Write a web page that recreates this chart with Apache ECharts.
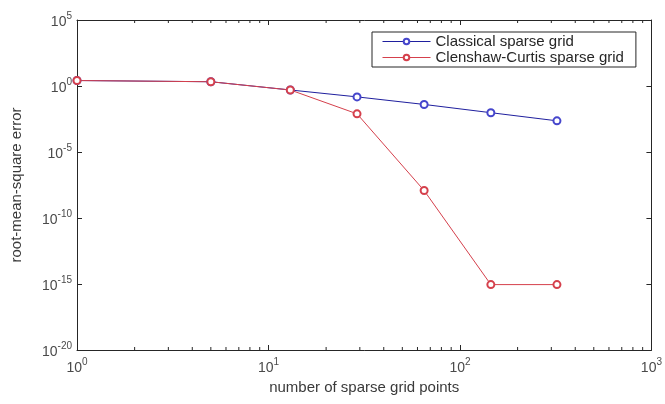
<!DOCTYPE html>
<html lang="en">
<head>
  <meta charset="UTF-8">
  <title>RMSE vs sparse grid points</title>
  <script src="https://cdn.jsdelivr.net/npm/echarts@6/dist/echarts.min.js"></script>
  <style>
    html, body { margin: 0; padding: 0; background: #fff; }
  </style>
</head>
<body>
  <div id="chart" style="width:665px; height:404px;"></div>
  <script>
    // number of sparse grid points (x)
    var gridPoints = [1, 5, 13, 29, 65, 145, 321];
    // root-mean-square error for each method
    var classicalErr = [2.6, 2.1, 0.5, 0.15, 0.04, 0.0095, 0.0023];
    var clenshawErr = [2.6, 2.1, 0.5, 0.0078, 1.2e-8, 9e-16, 9e-16];
    var seriesNames = ["Classical sparse grid", "Clenshaw-Curtis sparse grid"];
    // minor ticks on the log x axis
    var xMinorTicks = [2, 3, 4, 5, 6, 7, 8, 9, 20, 30, 40, 50, 60, 70, 80, 90, 200, 300, 400, 500, 600, 700, 800, 900];

    var axisColor = "#262626";
    var labelColor = "#4a4a4a";
    var font = "Liberation Sans";

    function pairs(xs, ys) {
      return xs.map(function (x, i) { return [x, ys[i]]; });
    }

    function powLabel(v) {
      var e = Math.round(Math.log10(v));
      return "{b|10}{s|" + e + "}";
    }

    // base "10" sits low in the line, exponent hugs the top
    var powRich = {
      b: { fontSize: 14, lineHeight: 18, verticalAlign: "bottom", color: labelColor, fontFamily: font },
      s: { fontSize: 10, lineHeight: 10, verticalAlign: "top", color: labelColor, fontFamily: font }
    };

    var myChart = echarts.init(document.getElementById("chart"));

    var option = {
      animation: false,
      backgroundColor: "#fff",
      grid: { left: 77, right: 13, top: 20, bottom: 54 },
      legend: {
        data: seriesNames,
        orient: "vertical",
        left: 372,
        top: 32,
        padding: [2, 12, 2, 10],
        itemGap: 1,
        itemWidth: 48,
        itemHeight: 7,
        borderColor: axisColor,
        borderWidth: 1,
        backgroundColor: "#fff",
        lineStyle: { width: 1 },
        textStyle: { fontSize: 15, color: "#262626", fontFamily: font }
      },
      xAxis: [{
        type: "log",
        logBase: 10,
        min: 1,
        max: 1000,
        interval: 1,
        position: "bottom",
        name: "number of sparse grid points",
        nameLocation: "middle",
        nameGap: 30,
        nameTextStyle: { fontSize: 15, color: "#3a3a3a", fontFamily: font },
        axisLine: { lineStyle: { color: axisColor, width: 1 } },
        axisTick: { inside: true, length: 5, lineStyle: { color: axisColor } },
        axisLabel: { margin: 7, formatter: powLabel, rich: powRich },
        splitLine: { show: false }
      }, {
        type: "log",
        logBase: 10,
        min: 1,
        max: 1000,
        interval: 1,
        position: "top",
        axisLine: { lineStyle: { color: axisColor, width: 1 } },
        axisTick: { inside: true, length: 5, lineStyle: { color: axisColor } },
        axisLabel: { show: false },
        splitLine: { show: false }
      }],
      yAxis: [{
        type: "log",
        logBase: 10,
        min: 1e-20,
        max: 1e5,
        interval: 5,
        position: "left",
        name: "root-mean-square error",
        nameLocation: "middle",
        nameGap: 53,
        nameTextStyle: { fontSize: 15, color: "#3a3a3a", fontFamily: font },
        axisLine: { show: true, lineStyle: { color: axisColor, width: 1 } },
        axisTick: { show: true, inside: true, length: 5, lineStyle: { color: axisColor } },
        axisLabel: { margin: 5, formatter: powLabel, rich: powRich },
        splitLine: { show: false }
      }, {
        type: "log",
        logBase: 10,
        min: 1e-20,
        max: 1e5,
        interval: 5,
        position: "right",
        axisLine: { show: true, lineStyle: { color: axisColor, width: 1 } },
        axisTick: { show: true, inside: true, length: 5, lineStyle: { color: axisColor } },
        axisLabel: { show: false },
        splitLine: { show: false }
      }],
      series: [{
        name: seriesNames[0],
        type: "line",
        data: pairs(gridPoints, classicalErr),
        symbol: "emptyCircle",
        symbolSize: 7,
        color: "#3a3ac4",
        lineStyle: { width: 1, color: "#1f1f9e" },
        itemStyle: { color: "#4646cc", borderWidth: 1 }
      }, {
        name: seriesNames[1],
        type: "line",
        data: pairs(gridPoints, clenshawErr),
        symbol: "emptyCircle",
        symbolSize: 7,
        color: "#d5404c",
        lineStyle: { width: 1, color: "#d5404c" },
        itemStyle: { color: "#d5404c", borderWidth: 1 }
      }, {
        // minor log ticks along bottom and top edges
        type: "custom",
        silent: true,
        data: xMinorTicks.map(function (v) { return [v]; }),
        renderItem: function (params, api) {
          var x = api.value(0);
          var b = api.coord([x, 1e-20]);
          var t = api.coord([x, 1e5]);
          var style = { stroke: axisColor, lineWidth: 1 };
          return {
            type: "group",
            children: [
              { type: "line", shape: { x1: b[0], y1: b[1], x2: b[0], y2: b[1] - 3 }, style: style },
              { type: "line", shape: { x1: t[0], y1: t[1], x2: t[0], y2: t[1] + 3 }, style: style }
            ]
          };
        }
      }]
    };

    myChart.setOption(option);
  </script>
</body>
</html>
